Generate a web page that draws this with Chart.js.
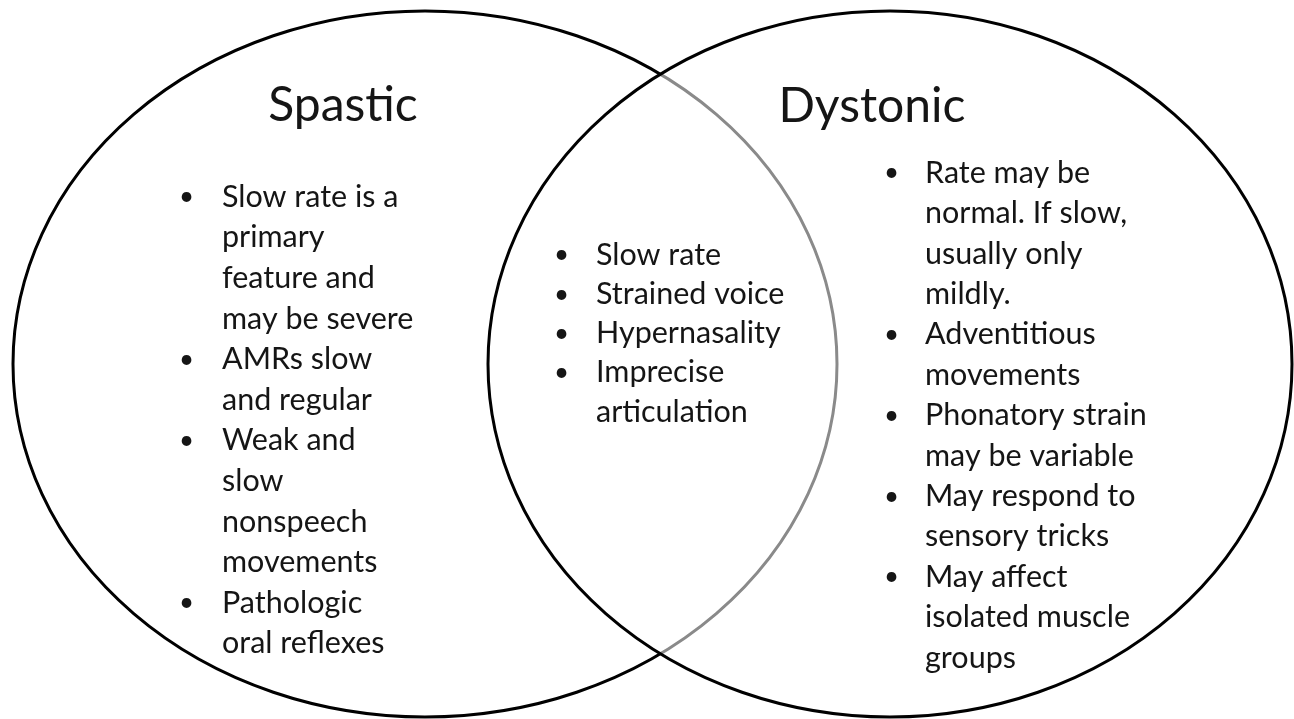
<!DOCTYPE html>
<html>
<head>
<meta charset="utf-8">
<script src="https://cdn.jsdelivr.net/npm/chart.js@4.4.1/dist/chart.umd.min.js"></script>
<style>
  html, body { margin: 0; padding: 0; background: #fff; }
  #venn { display: block; }
</style>
</head>
<body>
<canvas id="venn" width="1294" height="719"></canvas>
<script>
// Sets (ellipses) in picture units
const setNames = ['Spastic', 'Dystonic'];
const centerX = [425, 890];
const centerY = [364, 364];
const radiusX = [412, 402];
const radiusY = [353, 353];

// Bullet lists, each bullet is a list of wrapped lines
const spasticItems = [
    ['Slow rate is a', 'primary', 'feature and', 'may be severe'],
    ['AMRs slow', 'and regular'],
    ['Weak and', 'slow', 'nonspeech', 'movements'],
    ['Pathologic', 'oral reflexes']
];
const sharedItems = [
    ['Slow rate'],
    ['Strained voice'],
    ['Hypernasality'],
    ['Imprecise', 'articulation']
];
const dystonicItems = [
    ['Rate may be', 'normal. If slow,', 'usually only', 'mildly.'],
    ['Adventitious', 'movements'],
    ['Phonatory strain', 'may be variable'],
    ['May respond to', 'sensory tricks'],
    ['May affect', 'isolated muscle', 'groups']
];

// where titles and lists sit
const layout = {
    titles: [{ x: 343, y: 106 }, { x: 872, y: 107 }],
    lists: [
        { items: spasticItems, bulletX: 183, textX: 222, firstY: 197, step: 40.6 },
        { items: sharedItems, bulletX: 558, textX: 596, firstY: 255, step: 39.2 },
        { items: dystonicItems, bulletX: 888, textX: 925, firstY: 173, step: 40.4 }
    ]
};

const FONT = 'Lato, "Open Sans", sans-serif';

function ellipsePath(ctx, chart, i) {
    const xs = chart.scales.x, ys = chart.scales.y;
    const pt = chart.getDatasetMeta(0).data[i];
    const rx = xs.getPixelForValue(centerX[i] + radiusX[i]) - pt.x;
    const ry = ys.getPixelForValue(centerY[i] + radiusY[i]) - pt.y;
    ctx.beginPath();
    ctx.ellipse(pt.x, pt.y, Math.abs(rx), Math.abs(ry), 0, 0, Math.PI * 2);
}

const vennPlugin = {
    id: 'venn',
    afterDatasetsDraw(chart) {
        const ctx = chart.ctx;
        const xs = chart.scales.x, ys = chart.scales.y;
        ctx.save();
        ctx.lineWidth = 3;

        // left ellipse: black outside the right one, grey inside it
        ctx.save();
        ctx.beginPath();
        ctx.rect(0, 0, chart.width, chart.height);
        const pt = chart.getDatasetMeta(0).data[1];
        const rx = Math.abs(xs.getPixelForValue(centerX[1] + radiusX[1]) - pt.x);
        const ry = Math.abs(ys.getPixelForValue(centerY[1] + radiusY[1]) - pt.y);
        ctx.ellipse(pt.x, pt.y, rx, ry, 0, 0, Math.PI * 2);
        ctx.clip('evenodd');
        ellipsePath(ctx, chart, 0);
        ctx.strokeStyle = '#000';
        ctx.stroke();
        ctx.restore();

        ctx.save();
        ellipsePath(ctx, chart, 1);
        ctx.clip();
        ellipsePath(ctx, chart, 0);
        ctx.strokeStyle = '#8a8a8a';
        ctx.stroke();
        ctx.restore();

        ellipsePath(ctx, chart, 1);
        ctx.strokeStyle = '#000';
        ctx.stroke();

        // titles
        ctx.fillStyle = '#151515';
        ctx.textAlign = 'center';
        ctx.textBaseline = 'middle';
        ctx.font = '48px ' + FONT;
        setNames.forEach((name, i) => {
            const t = layout.titles[i];
            ctx.fillText(name, xs.getPixelForValue(t.x), ys.getPixelForValue(t.y));
        });

        // bullet lists
        ctx.textAlign = 'left';
        layout.lists.forEach(list => {
            let row = 0;
            list.items.forEach(lines => {
                lines.forEach((line, j) => {
                    const y = ys.getPixelForValue(list.firstY + row * list.step);
                    if (j === 0) {
                        ctx.font = '26px ' + FONT;
                        ctx.fillText('•', xs.getPixelForValue(list.bulletX) - 4, y);
                    }
                    ctx.font = '30.5px ' + FONT;
                    ctx.fillText(line, xs.getPixelForValue(list.textX), y);
                    row++;
                });
            });
        });
        ctx.restore();
    }
};

new Chart(document.getElementById('venn'), {
    type: 'scatter',
    data: {
        datasets: [{
            label: 'sets',
            data: centerX.map((x, i) => ({ x: x, y: centerY[i] })),
            pointRadius: 0
        }]
    },
    options: {
        responsive: false,
        animation: false,
        layout: { padding: 0 },
        plugins: { legend: { display: false }, tooltip: { enabled: false } },
        scales: {
            x: { type: 'linear', min: 0, max: 1294, display: false },
            y: { type: 'linear', min: 0, max: 719, reverse: true, display: false }
        }
    },
    plugins: [vennPlugin]
});
</script>
</body>
</html>
